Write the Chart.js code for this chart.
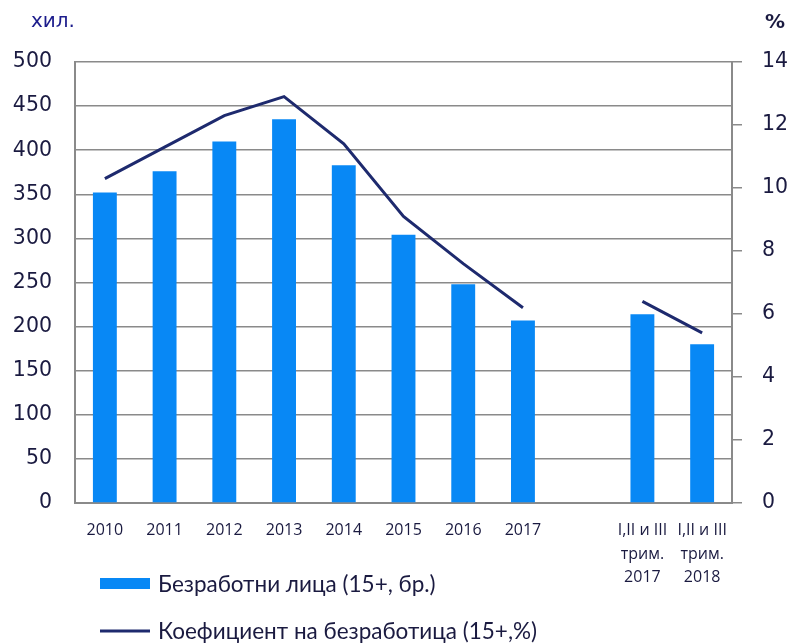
<!DOCTYPE html>
<html lang="bg">
<head>
<meta charset="UTF-8">
<title>Безработица</title>
<script src="https://cdn.jsdelivr.net/npm/chart.js"></script>
<style>
  html, body { margin: 0; padding: 0; background: #fff; }
  #wrap { width: 793px; height: 643px; position: relative; }
</style>
</head>
<body>
<div id="wrap"><canvas id="chart"></canvas></div>
<script>
// данни
var categories = [
  '2010', '2011', '2012', '2013', '2014', '2015', '2016', '2017', '',
  ['I,II и III', 'трим.', '2017'], ['I,II и III', 'трим.', '2018']
];
var unemployed = [352, 376, 410, 435, 383, 304, 248, 207, null, 214, 180];
var rate = [10.3, 11.3, 12.3, 12.9, 11.4, 9.1, 7.6, 6.2, null, 6.4, 5.4];
var seriesNames = ['Безработни лица (15+, бр.)', 'Коефициент на безработица (15+,%)'];

var textColor = '#1a1a40';
var gridColor = '#8a8a8a';

// надписи "хил.", "%" и легенда отдолу
var extras = {
  id: 'extras',
  afterDraw: function(chart) {
    var ctx = chart.ctx;
    ctx.save();
    ctx.textBaseline = 'middle';
    ctx.textAlign = 'left';
    ctx.font = '20px "DejaVu Sans"';
    ctx.fillStyle = '#1c1c8c';
    ctx.fillText('хил.', 31, 22);
    ctx.fillStyle = textColor;
    ctx.font = 'bold 20px "DejaVu Sans"';
    ctx.fillText('%', 765, 23);

    ctx.font = '22.5px Lato';
    chart.data.datasets.forEach(function(ds, i) {
      var y = 584 + i * 47;
      if (ds.type === 'line') {
        ctx.strokeStyle = ds.borderColor;
        ctx.lineWidth = 3;
        ctx.beginPath();
        ctx.moveTo(100, y);
        ctx.lineTo(150, y);
        ctx.stroke();
      } else {
        ctx.fillStyle = ds.backgroundColor;
        ctx.fillRect(100, y - 6, 50, 11);
      }
      ctx.fillStyle = textColor;
      ctx.fillText(ds.label, 158, y + 1);
    });
    ctx.restore();
  }
};

new Chart(document.getElementById('chart'), {
  type: 'bar',
  data: {
    labels: categories,
    datasets: [
      {
        type: 'bar',
        label: seriesNames[0],
        data: unemployed,
        backgroundColor: '#0888f5',
        yAxisID: 'y',
        barPercentage: 0.4,
        categoryPercentage: 1,
        order: 2
      },
      {
        type: 'line',
        label: seriesNames[1],
        data: rate,
        borderColor: '#1e2a6e',
        borderWidth: 3,
        pointRadius: 0,
        tension: 0,
        spanGaps: false,
        yAxisID: 'y1',
        order: 1
      }
    ]
  },
  options: {
    responsive: true,
    maintainAspectRatio: false,
    animation: false,
    layout: { padding: { top: 62, left: 0, right: 0, bottom: 0 } },
    plugins: {
      legend: { display: false },
      tooltip: { enabled: false }
    },
    scales: {
      x: {
        grid: { display: false },
        border: { display: true, color: gridColor, width: 2 },
        ticks: {
          color: textColor,
          font: { family: '"Open Sans"', size: 16, lineHeight: 1.47 },
          padding: 8,
          maxRotation: 0,
          autoSkip: false
        },
        afterFit: function(s) { s.height = 140; }
      },
      y: {
        position: 'left',
        min: 0,
        max: 500,
        grid: { color: gridColor, lineWidth: 1.5, drawTicks: false },
        border: { color: gridColor, width: 2 },
        ticks: {
          stepSize: 50,
          color: textColor,
          font: { family: '"DejaVu Sans"', size: 20.5 },
          padding: 23
        },
        afterFit: function(s) { s.width = 75; }
      },
      y1: {
        position: 'right',
        min: 0,
        max: 14,
        grid: { drawOnChartArea: false, drawTicks: true, tickLength: 10, color: gridColor, lineWidth: 1.5 },
        border: { color: gridColor, width: 2 },
        ticks: {
          stepSize: 2,
          color: textColor,
          font: { family: '"DejaVu Sans"', size: 20.5 },
          padding: 20
        },
        afterFit: function(s) { s.width = 61; }
      }
    }
  },
  plugins: [extras]
});
</script>
</body>
</html>
